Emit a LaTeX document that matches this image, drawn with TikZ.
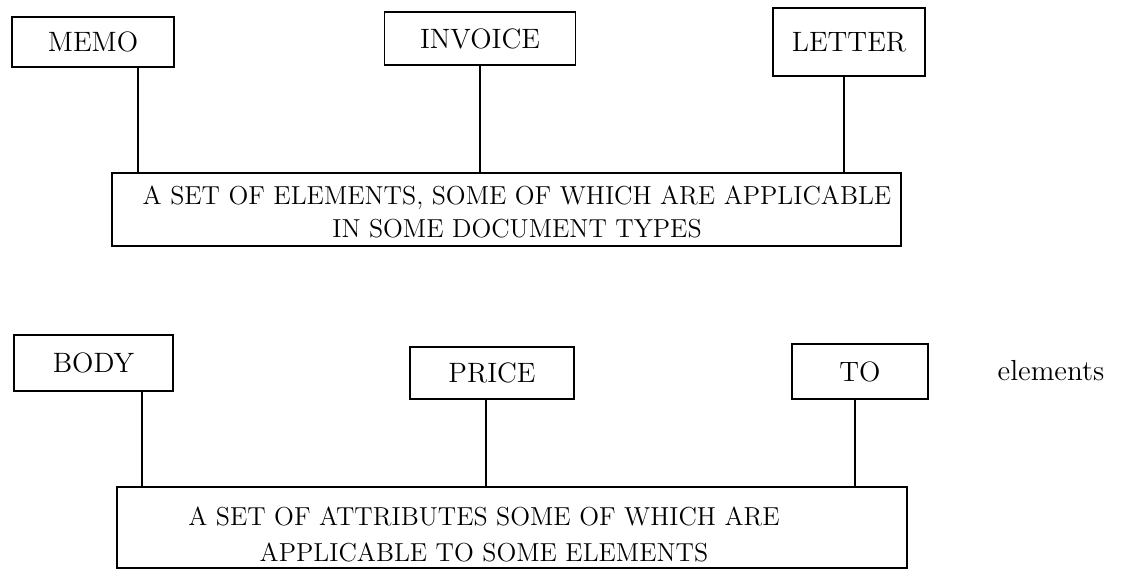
\documentclass[tikz,border=0pt]{standalone}
\usepackage{xcolor}
\usepackage{tikz}
\usetikzlibrary{calc}

\tikzset{
  tagbox/.style={draw, line width=0.9pt, inner sep=0pt, font=\fontsize{14}{18}\selectfont},
  setbox/.style={draw, line width=0.9pt, inner sep=0pt},
  settext/.style={align=center, inner sep=0pt, font=\fontsize{13}{18}\selectfont},
  link/.style={line width=0.9pt}
}

\begin{document}
\begin{tikzpicture}[x=0.5pt, y=-0.5pt]
            \useasboundingbox (0,0) rectangle (1125,573);

            % Document types
            \node[tagbox, minimum width=81pt, minimum height=25pt] (memo) at (93,42) {MEMO};
            \node[tagbox, minimum width=95.5pt, minimum height=26.5pt] (invoice) at (480,38.5) {INVOICE};
            \node[tagbox, minimum width=76pt, minimum height=34pt] (letter) at (849,42) {LETTER};

            \node[setbox, minimum width=394.5pt, minimum height=36.5pt] (elemset) at (506.5,209.5) {};
            \node[settext, font=\fontsize{13}{16.5}\selectfont] (elemtext) at (517,212) {A SET OF ELEMENTS, SOME OF WHICH ARE APPLICABLE\\IN SOME DOCUMENT TYPES};

            \coordinate (m1) at ($(memo.south)+(45,0)$);
            \coordinate (m2) at ($(invoice.south)+(0,0)$);
            \coordinate (m3) at ($(letter.south)+(-5,0)$);
            \draw[link] (m1) -- (m1 |- elemset.north);
            \draw[link] (m2) -- (m2 |- elemset.north);
            \draw[link] (m3) -- (m3 |- elemset.north);

            % Elements
            \node[tagbox, minimum width=79.5pt, minimum height=28pt] (body) at (93.5,363) {BODY};
            \node[tagbox, minimum width=82pt, minimum height=26pt] (price) at (492,373) {PRICE};
            \node[tagbox, minimum width=68pt, minimum height=27.5pt] (to) at (860,371.5) {TO};
            \node[font=\fontsize{14.5}{17}\selectfont, anchor=base, inner sep=0pt] (elemlabel) at (1051,380) {elements};

            \node[setbox, minimum width=395pt, minimum height=40.5pt] (attrset) at (512,527.5) {};
            \node[settext] (attrtext) at (484,534) {A SET OF ATTRIBUTES SOME OF WHICH ARE\\APPLICABLE TO SOME ELEMENTS};

            \coordinate (b1) at ($(body.south)+(48.5,0)$);
            \coordinate (b2) at ($(price.south)+(-6,0)$);
            \coordinate (b3) at ($(to.south)+(-5,0)$);
            \draw[link] (b1) -- (b1 |- attrset.north);
            \draw[link] (b2) -- (b2 |- attrset.north);
            \draw[link] (b3) -- (b3 |- attrset.north);
\end{tikzpicture}
\end{document}
